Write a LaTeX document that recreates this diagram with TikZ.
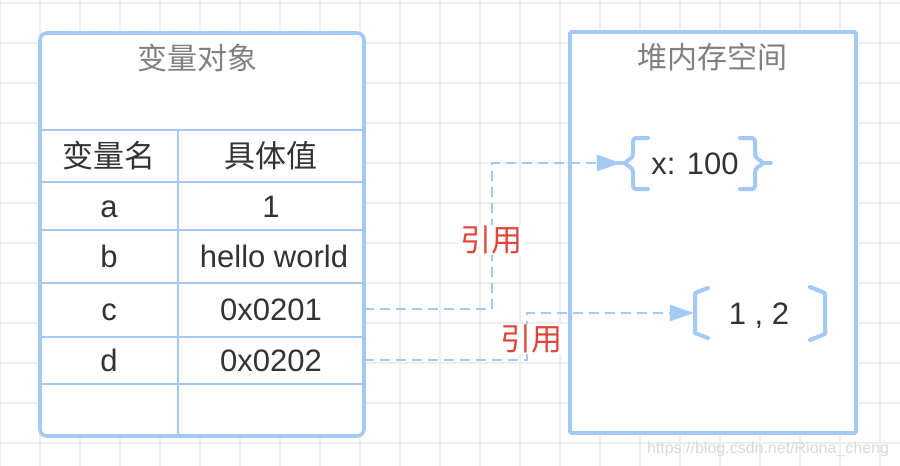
\documentclass[tikz,border=0pt]{standalone}
\usepackage{fontspec}
\setmainfont{Liberation Sans}
\newfontfamily\cjk{Noto Sans CJK SC}
\usetikzlibrary{arrows.meta}
\definecolor{bl}{RGB}{164,201,245}
\definecolor{txt}{RGB}{51,51,51}
\definecolor{ttl}{RGB}{128,128,128}
\definecolor{rd}{RGB}{224,68,58}
\definecolor{grd}{RGB}{238,238,238}
\begin{document}
\begin{tikzpicture}[x=1pt,y=-1pt,
  gridline/.style={grd,line width=1.3pt},
  outerbox/.style={bl,line width=3.6pt,fill=white},
  innerline/.style={bl,line width=2.2pt},
  titletext/.style={text=ttl,font=\fontsize{30}{30}\selectfont\cjk,inner sep=0pt,text height=22pt,text depth=0pt},
  cell/.style={text=txt,font=\fontsize{31}{31}\selectfont,inner sep=0pt,text height=22pt,text depth=0pt,anchor=center},
  refline/.style={bl,line width=2.6pt,dash pattern=on 10pt off 6pt,-{Triangle[length=24pt,width=16pt]}},
  refbox/.style={text=rd,font=\fontsize{31}{31}\selectfont\cjk,fill=white,inner xsep=3pt,inner ysep=4pt,text height=22pt,text depth=0pt},
  bracestyle/.style={bl,line width=4pt,line cap=round,line join=round},
  objtext/.style={text=txt,font=\fontsize{31}{31}\selectfont,inner sep=0pt,text height=22pt,text depth=0pt},
  watermark/.style={text=black!15,font=\fontsize{16}{16}\selectfont}
]
\useasboundingbox (0,0) rectangle (900,466);
\fill[white] (0,0) rectangle (900,466);
% background grid
\foreach \i in {0,...,22} \draw[gridline] (40*\i,0) -- (40*\i,466);
\foreach \j in {0,...,11} \draw[gridline] (0,3+40*\j) -- (900,3+40*\j);

% left table box
\draw[outerbox,rounded corners=7pt] (40,33) rectangle (364,436);
\foreach \yy in {130,182,230,283,337,384} \draw[innerline] (41,\yy) -- (363,\yy);
\draw[innerline] (178,130) -- (178,435);

% right box
\draw[outerbox,rounded corners=1.5pt] (570,32) rectangle (856,433);

% titles
\node[titletext] (t1) at (197,58) {变量对象};
\node[titletext] (t2) at (712,57) {堆内存空间};

% table cells
\node[cell,minimum width=138pt] (hn) at (109,156) {\cjk 变量名};
\node[cell,minimum width=186pt] (hv) at (271,156) {\cjk 具体值};
\node[cell,minimum width=138pt] (an) at (109,206) {a};
\node[cell,minimum width=186pt] (av) at (271,206) {1};
\node[cell,minimum width=138pt] (bn) at (109,256) {b};
\node[cell,minimum width=186pt] (bv) at (274,256) {hello world};
\node[cell,minimum width=138pt] (cn) at (109,309) {c};
\node[cell,minimum width=186pt] (cv) at (271,309) {0x0201};
\node[cell,minimum width=138pt] (dn) at (109,360) {d};
\node[cell,minimum width=186pt] (dv) at (271,360) {0x0202};

% heap objects
\node[objtext,minimum width=148pt] (xobj) at (695,163) {x: 100};
\node[objtext,minimum width=130pt] (arrobj) at (759,313) {1 , 2};

% braces { }
\draw[bracestyle,rounded corners=3pt] (648,138) -- (633,138) -- (633,157) -- (624,163) -- (633,169) -- (633,189) -- (648,189);
\draw[bracestyle,rounded corners=3pt] (740,138) -- (755,138) -- (755,157) -- (764,163) -- (755,169) -- (755,189) -- (740,189);
\draw[bracestyle] (764,163) -- (771,163);
\draw[bracestyle] (623,163) -- (618,163);
% brackets [ ]
\draw[bracestyle] (708,288) -- (695,293) -- (695,333) -- (708,338);
\draw[bracestyle] (810,287) -- (825,293) -- (825,334) -- (810,340);

% connectors
\coordinate (k1) at (492,0);
\coordinate (k2) at (527,0);
\draw[refline] (cv.east) -- (cv.east -| k1) |- (xobj.west);
\draw[refline] (dv.east) -- (dv.east -| k2) |- (arrobj.west);

% labels
\node[refbox] (l1) at (491,240) {引用};
\node[refbox] (l2) at (531,339) {引用};

% watermark
\node[watermark] (wm) at (768,449) {https://blog.csdn.net/Riona\_cheng};
\end{tikzpicture}
\end{document}
